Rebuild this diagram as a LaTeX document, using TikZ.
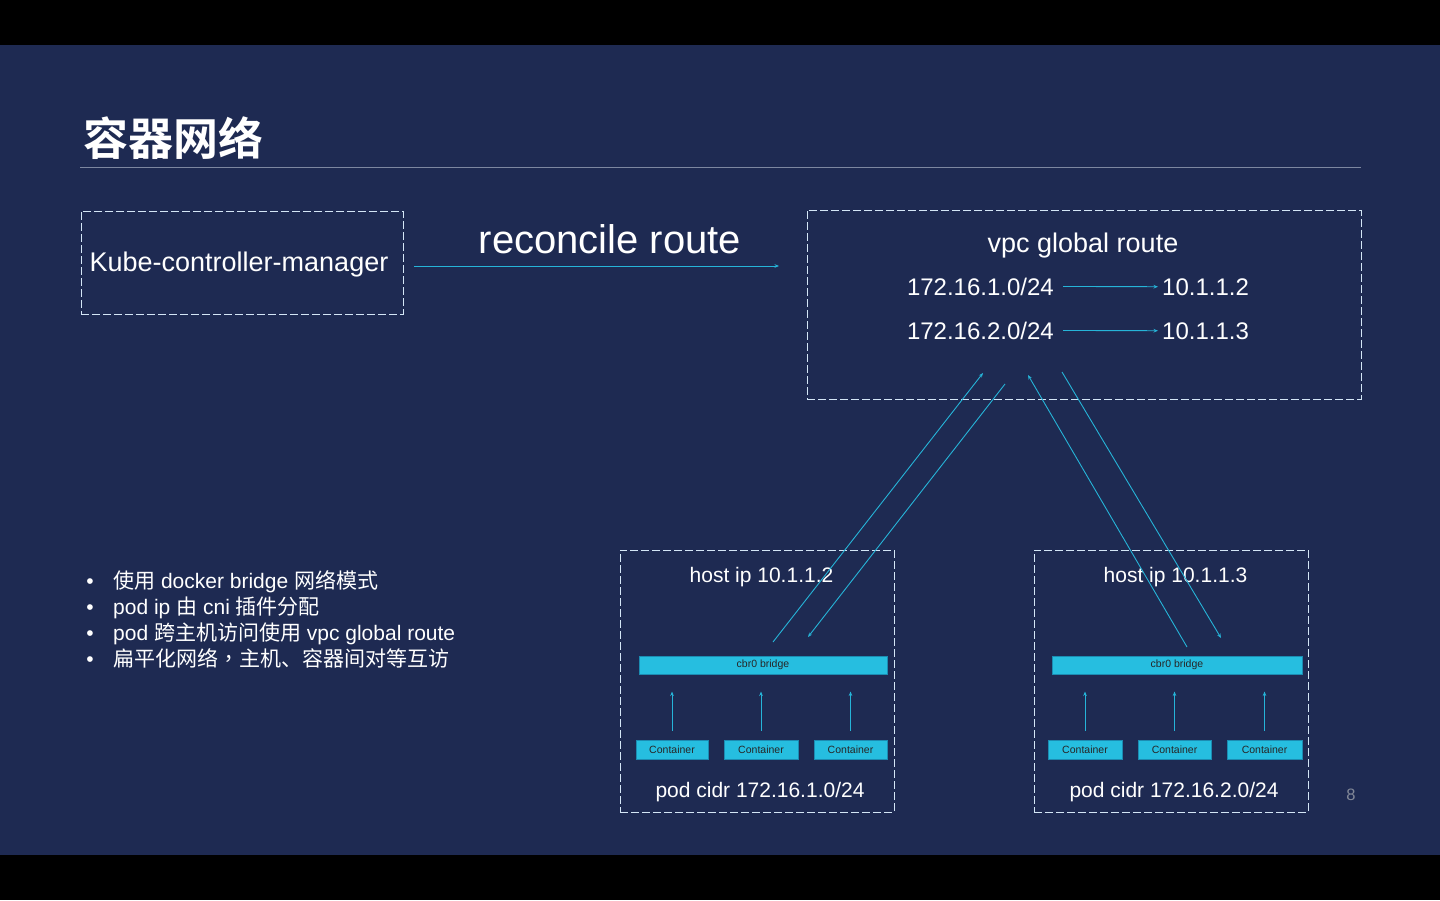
\documentclass[tikz,border=0pt]{standalone}
\usepackage{fontspec}
\setmainfont{Liberation Sans}
\newfontfamily\cjk{Noto Sans CJK SC}[BoldFont={Noto Sans CJK SC Bold}]
\newfontfamily\cjktc{Noto Sans CJK TC}
\usetikzlibrary{arrows.meta}
\definecolor{bgc}{RGB}{30,42,82}
\definecolor{linec}{RGB}{38,180,216}
\definecolor{barc}{RGB}{38,190,224}
\definecolor{barb}{RGB}{28,140,178}
\definecolor{dashc}{RGB}{212,230,246}
\definecolor{rulec}{RGB}{125,135,160}
\definecolor{pgc}{RGB}{130,136,152}
\tikzset{
  dbox/.style={draw=dashc, dash pattern=on 8pt off 3pt, line width=0.85pt, inner sep=0pt, fill=none},
  cbar/.style={fill=barc, draw=barb, line width=1pt, inner sep=0pt, text=black!85,
    font=\fontsize{10.5}{12}\selectfont},
  arr/.style={draw=linec, line width=0.9pt, -{Stealth[length=4.5pt,width=3.6pt]}},
  wt/.style={text=white, inner sep=0pt},
  big/.style={wt, font=\fontsize{27}{32}\selectfont},
  mid/.style={wt, font=\fontsize{24}{28}\selectfont},
  sm/.style={wt, font=\fontsize{21}{25}\selectfont},
}
\begin{document}
\begin{tikzpicture}[x=1pt,y=-1pt]
\useasboundingbox (0,0) rectangle (1440,900);
\fill[black] (0,0) rectangle (1440,900);
\fill[bgc] (0,45) rectangle (1440,855);

% title
\node[wt, anchor=west, font=\cjk\bfseries\fontsize{45}{50}\selectfont] (title) at (83,138) {容器网络};
\coordinate (ruleA) at (80,167);
\coordinate (ruleB) at (1361,167);
\draw[rulec, line width=0.8pt] (ruleA) -- (ruleB);

% controller
\node[dbox, minimum width=322pt, minimum height=103pt] (kcm) at (242,262.5) {};
\node[big, anchor=base] (kcmt) at (239,271) {Kube-controller-manager};

% reconcile
\node[wt, anchor=base, font=\fontsize{40}{46}\selectfont] (rt) at (610,253) {reconcile route};
\coordinate (r1) at (414,266);
\coordinate (r2) at (779,266);
\draw[arr] (r1) -- (r2);

% vpc global route
\node[dbox, minimum width=554pt, minimum height=189pt] (vpc) at (1084,304.5) {};
\node[big, anchor=base] (vpct) at (1083,252) {vpc global route};
\node[mid, anchor=base east] (n1) at (1054,295) {172.16.1.0/24};
\node[mid, anchor=base west] (h1) at (1162,295) {10.1.1.2};
\node[mid, anchor=base east] (n2) at (1054,339) {172.16.2.0/24};
\node[mid, anchor=base west] (h2) at (1162,339) {10.1.1.3};
\draw[arr, shorten <=9pt, shorten >=4pt] (n1.east) -- (h1.west);
\draw[arr, shorten <=9pt, shorten >=4pt] (n2.east) -- (h2.west);

% host 1
\node[dbox, minimum width=274pt, minimum height=262pt] (host1) at (757,681) {};
\node[sm, anchor=base] (hip1) at (761.5,582) {host ip 10.1.1.2};
\node[cbar, minimum width=248pt, minimum height=18pt] (br1) at (763,665) {cbr0 bridge};
\node[cbar, minimum width=72pt, minimum height=19pt] (c11) at (672,749.5) {Container};
\node[cbar, minimum width=74pt, minimum height=19pt] (c12) at (761,749.5) {Container};
\node[cbar, minimum width=73pt, minimum height=19pt] (c13) at (850.5,749.5) {Container};
\node[sm, anchor=base] (pc1) at (760,797) {pod cidr 172.16.1.0/24};
\foreach \c in {c11,c12,c13}
  \draw[arr, shorten <=9pt, shorten >=17pt] (\c.north) -- (\c.north |- br1.south);

% host 2
\node[dbox, minimum width=274pt, minimum height=262pt] (host2) at (1171,681) {};
\node[sm, anchor=base] (hip2) at (1175.5,582) {host ip 10.1.1.3};
\node[cbar, minimum width=250pt, minimum height=18pt] (br2) at (1177,665) {cbr0 bridge};
\node[cbar, minimum width=74pt, minimum height=19pt] (c21) at (1085,749.5) {Container};
\node[cbar, minimum width=73pt, minimum height=19pt] (c22) at (1174.5,749.5) {Container};
\node[cbar, minimum width=75pt, minimum height=19pt] (c23) at (1264.5,749.5) {Container};
\node[sm, anchor=base] (pc2) at (1174,797) {pod cidr 172.16.2.0/24};
\foreach \c in {c21,c22,c23}
  \draw[arr, shorten <=9pt, shorten >=17pt] (\c.north) -- (\c.north |- br2.south);

% cross-host routes
\coordinate (a1) at (773,642);
\coordinate (a2) at (983,373);
\coordinate (b1) at (1005,384);
\coordinate (b2) at (808,637);
\coordinate (d1) at (1187,647);
\coordinate (d2) at (1028,375);
\coordinate (e1) at (1062,372);
\coordinate (e2) at (1221,638);
\draw[arr] (a1) -- (a2);
\draw[arr] (b1) -- (b2);
\draw[arr] (d1) -- (d2);
\draw[arr] (e1) -- (e2);

% bullets
\foreach \y/\n in {588/1,614/2,640/3,666/4}
  \node[sm, anchor=base] (dot\n) at (90,\y) {\textbullet};
\node[sm, anchor=base west] (l1) at (113,588) {{\cjk 使用} docker bridge {\cjk 网络模式}};
\node[sm, anchor=base west] (l2) at (113,614) {pod ip {\cjk 由} cni {\cjk 插件分配}};
\node[sm, anchor=base west] (l3) at (113,640) {pod {\cjk 跨主机访问使用} vpc global route};
\node[sm, anchor=base west] (l4) at (113,666) {{\cjk 扁平化网络}{\cjktc ，}{\cjk 主机、容器间对等互访}};

% page number
\node[text=pgc, inner sep=0pt, font=\fontsize{16.5}{18}\selectfont] (pg) at (1351,795) {8};
\end{tikzpicture}
\end{document}
